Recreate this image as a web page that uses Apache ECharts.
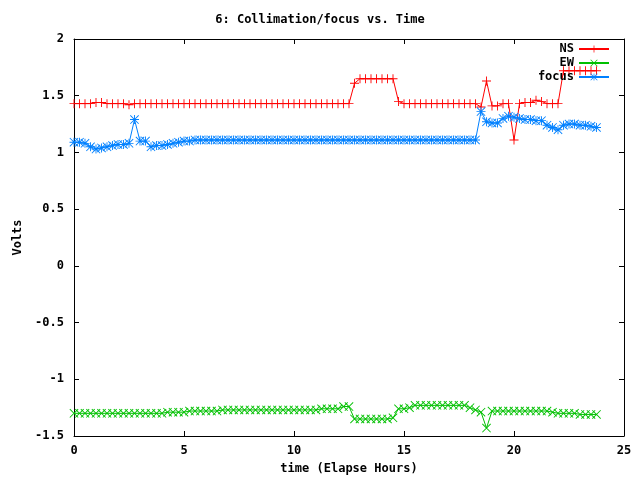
<!DOCTYPE html>
<html><head><meta charset="utf-8">
<script src="https://cdn.jsdelivr.net/npm/echarts@6/dist/echarts.min.js"></script>
<style>html,body{margin:0;padding:0;background:#fff}#c{width:640px;height:480px}</style>
</head><body><div id="c"></div>
<script>
var times = [0,0.25,0.5,0.75,1,1.25,1.5,1.75,2,2.25,2.5,2.75,3,3.25,3.5,3.75,4,4.25,4.5,4.75,5,5.25,5.5,5.75,6,6.25,6.5,6.75,7,7.25,7.5,7.75,8,8.25,8.5,8.75,9,9.25,9.5,9.75,10,10.25,10.5,10.75,11,11.25,11.5,11.75,12,12.25,12.5,12.75,13,13.25,13.5,13.75,14,14.25,14.5,14.75,15,15.25,15.5,15.75,16,16.25,16.5,16.75,17,17.25,17.5,17.75,18,18.25,18.5,18.75,19,19.25,19.5,19.75,20,20.25,20.5,20.75,21,21.25,21.5,21.75,22,22.25,22.5,22.75,23,23.25,23.5,23.75];
var ns = [1.43,1.43,1.43,1.43,1.44,1.44,1.43,1.43,1.43,1.43,
 1.42,1.43,1.43,1.43,1.43,1.43,1.43,1.43,1.43,1.43,
 1.43,1.43,1.43,1.43,1.43,1.43,1.43,1.43,1.43,1.43,
 1.43,1.43,1.43,1.43,1.43,1.43,1.43,1.43,1.43,1.43,
 1.43,1.43,1.43,1.43,1.43,1.43,1.43,1.43,1.43,1.43,
 1.43,1.61,1.65,1.65,1.65,1.65,1.65,1.65,1.65,1.45,
 1.43,1.43,1.43,1.43,1.43,1.43,1.43,1.43,1.43,1.43,1.43,1.43,1.43,1.43,
 1.40,1.63,1.41,1.41,1.43,1.43,1.11,1.43,1.44,1.44,1.46,1.45,1.43,1.43,1.43,1.72,1.72,1.72,1.72,1.72,1.72,1.72];
var ew = [-1.30,-1.30,-1.30,-1.30,-1.30,-1.30,-1.30,-1.30,-1.30,-1.30,-1.30,-1.30,-1.30,-1.30,-1.30,-1.30,-1.30,
 -1.29,-1.29,-1.29,-1.29,-1.28,-1.28,-1.28,-1.28,-1.28,-1.28,-1.27,-1.27,
 -1.27,-1.27,-1.27,-1.27,-1.27,-1.27,-1.27,-1.27,-1.27,-1.27,-1.27,-1.27,-1.27,-1.27,-1.27,-1.27,
 -1.26,-1.26,-1.26,-1.26,
 -1.24,-1.24,
 -1.35,-1.35,-1.35,-1.35,-1.35,-1.35,-1.35,
 -1.34,
 -1.26,-1.26,-1.25,
 -1.23,-1.23,-1.23,-1.23,-1.23,-1.23,-1.23,-1.23,-1.23,-1.23,
 -1.25,-1.27,-1.29,-1.43,
 -1.28,-1.28,-1.28,-1.28,-1.28,-1.28,-1.28,-1.28,-1.28,-1.28,-1.28,
 -1.29,-1.30,-1.30,-1.30,-1.30,-1.31,-1.31,-1.31,-1.31];
var focus = [1.09,1.09,1.08,1.05,1.03,1.04,1.05,1.06,1.07,1.07,1.08,1.29,1.10,1.10,1.05,1.06,1.06,1.07,1.08,1.09,1.10,1.10,
 1.11,1.11,1.11,1.11,1.11,1.11,1.11,1.11,1.11,1.11,1.11,1.11,1.11,1.11,1.11,1.11,1.11,1.11,1.11,1.11,1.11,1.11,1.11,1.11,1.11,1.11,
 1.11,1.11,1.11,1.11,1.11,1.11,1.11,1.11,1.11,1.11,1.11,1.11,1.11,1.11,1.11,1.11,1.11,1.11,1.11,1.11,1.11,1.11,1.11,1.11,1.11,1.11,
 1.36,1.27,1.26,1.26,1.30,1.32,1.31,1.30,1.29,1.29,1.28,1.28,1.24,1.22,1.20,1.24,1.25,1.25,1.24,1.24,1.23,1.22];
var seriesNames = ['NS','EW','focus'];
var colors = ['#ff0000','#00c000','#0080ff'];

var FONT = 'DejaVu Sans Mono';
var plusSym = 'path://M4.5,0h1v10h-1z M0,4.5h10v1h-10z';
var crossSym = 'path://M0,0.7L0.7,0L10,9.3L9.3,10Z M9.3,0L10,0.7L0.7,10L0,9.3Z';
var starSym = 'path://M4.5,0h1v10h-1z M0,4.5h10v1h-10z M0,0.7L0.7,0L10,9.3L9.3,10Z M9.3,0L10,0.7L0.7,10L0,9.3Z';
var syms = [plusSym, crossSym, starSym];
var vals = [ns, ew, focus];

function pairs(v){ return times.map(function(t,i){ return [t, v[i]]; }); }

var chart = echarts.init(document.getElementById('c'), null, {renderer:'canvas'});
function axisCommon(){ return {
  axisLine:{show:true,onZero:false,lineStyle:{color:'#000',width:1}},
  axisTick:{show:true,inside:true,length:5,lineStyle:{color:'#000'}},
  splitLine:{show:false}
};}
var txt = {fontFamily:FONT,fontSize:12,fontWeight:'bold',color:'#000'};
chart.setOption({
  animation:false,
  backgroundColor:'#fff',
  title:{text:'6: Collimation/focus vs. Time',left:'center',top:9,
    textStyle:txt},
  legend:{
    orient:'vertical',right:25,top:38,align:'right',itemWidth:30,itemHeight:9,itemGap:2,
    textStyle:txt,
    data:seriesNames
  },
  grid:{left:74,right:16,top:39,bottom:42},
  xAxis:[
    Object.assign({type:'value',min:0,max:25,interval:5,position:'bottom',
      name:'time (Elapse Hours)',nameLocation:'middle',nameGap:27,
      nameTextStyle:txt,
      axisLabel:Object.assign({margin:9},txt)}, axisCommon()),
    Object.assign({type:'value',min:0,max:25,interval:5,position:'top',
      axisLabel:{show:false}}, axisCommon())
  ],
  yAxis:[
    Object.assign({type:'value',min:-1.5,max:2,interval:0.5,position:'left',
      name:'Volts',nameLocation:'middle',nameGap:48,
      nameTextStyle:txt,
      axisLabel:Object.assign({margin:10},txt)}, axisCommon()),
    Object.assign({type:'value',min:-1.5,max:2,interval:0.5,position:'right',
      axisLabel:{show:false}}, axisCommon())
  ],
  series:seriesNames.map(function(n,i){
    return {
      name:n,type:'line',xAxisIndex:0,yAxisIndex:0,
      data:pairs(vals[i]),
      symbol:syms[i],symbolSize:9,showAllSymbol:true,
      lineStyle:{color:colors[i],width:1},
      itemStyle:{color:colors[i]},
      emphasis:{disabled:true}
    };
  })
});
</script>
</body></html>
